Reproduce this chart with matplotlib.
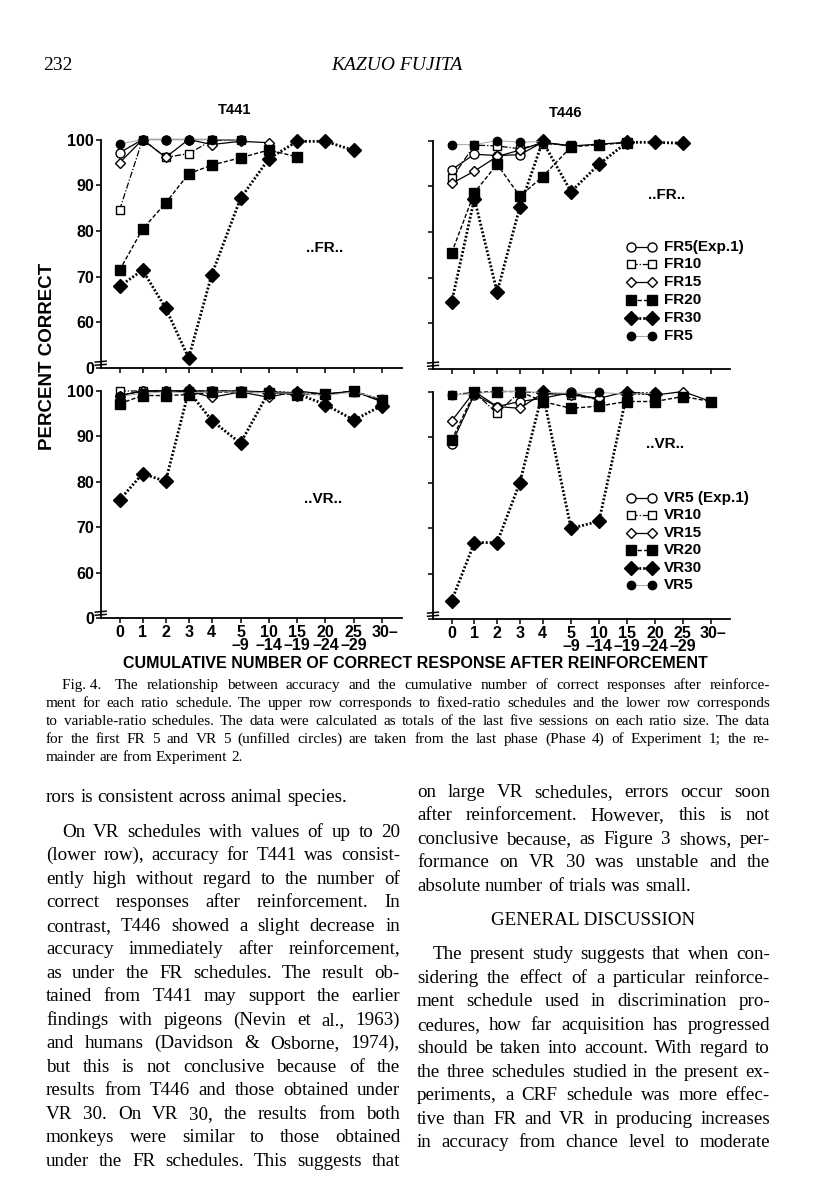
import numpy as np
import matplotlib
matplotlib.use("Agg")
import matplotlib.pyplot as plt
from matplotlib.lines import Line2D

nan = np.nan
W, H = 816, 1200

# categories on the x axis (cumulative correct responses after reinforcement)
categories = ["0", "1", "2", "3", "4", "5\n\u20139", "10\n\u201314", "15\n\u201319",
              "20\n\u201324", "25\n\u201329", "30\u2013"]

# T441, fixed ratio (upper left)
t441_fr5_exp1 = [97.1, 100, 100, 100, 100, 99.8, nan, nan, nan, nan, nan]
t441_fr10 = [84.6, 100, 96.1, 96.9, 99.8, 99.8, nan, nan, nan, nan, nan]
t441_fr15 = [94.9, 100, 96.1, 100, 98.9, 99.6, 99.3, nan, nan, nan, nan]
t441_fr20 = [71.4, 80.4, 86.1, 92.5, 94.4, 96.0, 97.7, 96.2, nan, nan, nan]
t441_fr30 = [67.9, 71.4, 63.1, 52.2, 70.4, 87.1, 95.8, 99.6, 99.6, 97.6, nan]
t441_fr5 = [99.0, 100, 100, 100, 100, 99.8, nan, nan, nan, nan, nan]

# T446, fixed ratio (upper right)
t446_fr5_exp1 = [93.6, 97.0, 96.7, 96.9, 99.6, 98.8, nan, nan, nan, nan, nan]
t446_fr10 = [91.7, 99.0, 98.8, 98.2, 99.3, 99.0, nan, nan, nan, nan, nan]
t446_fr15 = [90.6, 93.3, 96.5, 97.9, 99.6, 98.8, 99.2, 99.6, nan, nan, nan]
t446_fr20 = [75.4, 88.6, 94.8, 87.8, 92.1, 98.6, 99.1, 99.5, nan, nan, nan]
t446_fr30 = [64.6, 87.3, 66.8, 85.5, 99.8, 88.8, 94.8, 99.6, 99.6, 99.4, nan]
t446_fr5 = [99.1, 99.1, 100, 99.6, 99.8, nan, nan, nan, nan, nan, nan]

# T441, variable ratio (lower left)
t441_vr5_exp1 = [99.0, 100, 100, 100, 100, 100, 99.8, 99.6, nan, nan, nan]
t441_vr10 = [100, 100, 100, 100, 100, 100, 99.6, 99.6, 99.4, 99.8, 97.8]
t441_vr15 = [99.0, 100, 100, 100, 98.6, 99.8, 98.6, 100, 99.3, 100, 97.6]
t441_vr20 = [97.2, 99.0, 99.0, 99.2, 99.7, 99.8, 99.6, 99.2, 99.3, 100, 98.0]
t441_vr30 = [76.0, 81.8, 80.1, 100, 93.5, 88.5, 99.8, 99.4, 97.0, 93.6, 96.8]
t441_vr5 = [98.8, 99.5, 99.8, 99.6, 99.8, 99.8, 99.6, 99.5, 99.0, 99.8, 98.3]

# T446, variable ratio (lower right)
t446_vr5_exp1 = [88.5, 99.3, 96.7, 97.8, 98.5, 99.8, 98.2, nan, nan, nan, nan]
t446_vr10 = [99.3, 99.8, 95.2, 100, 99.6, 99.3, 98.2, nan, nan, nan, nan]
t446_vr15 = [93.5, 100, 96.7, 96.3, 99.6, 99.3, 98.5, 100, 99.2, 100, 97.8]
t446_vr20 = [89.3, 99.8, 100, 100, 97.8, 96.3, 96.8, 97.8, 97.8, 98.9, 97.8]
t446_vr30 = [54.0, 66.8, 66.8, 80.0, 99.8, 69.9, 71.5, 99.6, 99.5, nan, nan]
t446_vr5 = [99.3, 99.5, 100, 100, 99.8, 99.6, 99.8, 99.4, 99.6, nan, nan]

fr_labels = ["FR5(Exp.1)", "FR10", "FR15", "FR20", "FR30", "FR5"]
vr_labels = ["VR5 (Exp.1)", "VR10", "VR15", "VR20", "VR30", "VR5"]

# first five categories are single counts, the rest are bins drawn a bit wider apart
xpos = np.r_[np.arange(5), 5.25 + 1.23 * np.arange(6)]

styles = [
    dict(marker="o", mfc="white", ms=6.5, ls="-", lw=0.9, color="black"),
    dict(marker="s", mfc="white", ms=6, ls=(0, (5, 1.5, 1, 1.5)), lw=0.9, color="black"),
    dict(marker="D", mfc="white", ms=5.5, ls="-", lw=0.9, color="black"),
    dict(marker="s", mfc="black", ms=6.5, ls=(0, (3, 1.5)), lw=1.0, color="black"),
    dict(marker="D", mfc="black", ms=7, ls=(0, (0.7, 0.7)), lw=2.0, color="black"),
    dict(marker="o", mfc="black", ms=6, ls="-", lw=0.7, color="0.65"),
]

plt.rcParams["font.family"] = ["Liberation Sans", "DejaVu Sans"]
fig = plt.figure(figsize=(W / 100, H / 100), dpi=100)
fig.patch.set_facecolor("white")


def px(x, y):
    return x / W, 1 - y / H


def make_axes(x0, x1, ytop, ybot, show_ylabels, show_xlabels, series):
    ax = fig.add_axes([x0 / W, 1 - ybot / H, (x1 - x0) / W, (ybot - ytop) / H])
    for data, st in zip(series, styles):
        ax.plot(xpos, data, clip_on=False, mec="black", mew=1.0, **st)
    ax.set_xlim(-0.82, 12.24)
    ax.set_ylim(50, 100)
    for s in ["top", "right"]:
        ax.spines[s].set_visible(False)
    for s in ["left", "bottom"]:
        ax.spines[s].set_linewidth(1.3)
    ax.set_yticks([50, 60, 70, 80, 90, 100])
    ax.set_xticks(xpos)
    ax.tick_params(direction="out", length=3.5, width=1.1, pad=1.5)
    if show_ylabels:
        ax.set_yticklabels(["0", "60", "70", "80", "90", "100"],
                           fontsize=11.5, fontweight="bold")
    else:
        ax.set_yticklabels([])
    if show_xlabels:
        ax.set_xticklabels(categories[:-1] + [""], fontsize=11.5,
                           fontweight="bold", linespacing=0.8)
        ax.text(xpos[-1] + 0.1, -0.063, categories[-1], transform=ax.get_xaxis_transform(),
                ha="center", va="center", fontsize=11.5, fontweight="bold")
    else:
        ax.set_xticklabels([])
    # axis break mark near the bottom of the y axis
    for yb in (0.014, 0.028):
        ax.plot([-0.018, 0.018], [yb - 0.002, yb + 0.002], transform=ax.transAxes,
                color="black", lw=1.1, clip_on=False)
    return ax


ax1 = make_axes(100.7, 401.5, 139.5, 368, True, False,
                [t441_fr5_exp1, t441_fr10, t441_fr15, t441_fr20, t441_fr30, t441_fr5])
ax2 = make_axes(433, 730, 140.5, 369, False, False,
                [t446_fr5_exp1, t446_fr10, t446_fr15, t446_fr20, t446_fr30, t446_fr5])
ax3 = make_axes(100.7, 401.5, 391, 618, True, True,
                [t441_vr5_exp1, t441_vr10, t441_vr15, t441_vr20, t441_vr30, t441_vr5])
ax4 = make_axes(433, 730, 391.5, 619, False, True,
                [t446_vr5_exp1, t446_vr10, t446_vr15, t446_vr20, t446_vr30, t446_vr5])


# hand-placed legends inside the right panels
def legend(rows_y, labels):
    for yy, lab, st in zip(rows_y, labels, styles):
        x_a, y_a = px(631, yy)
        x_b, _ = px(652, yy)
        ln = Line2D([x_a, x_b], [y_a, y_a], transform=fig.transFigure, mec="black",
                    mew=1.0, **st)
        fig.add_artist(ln)
        fig.text(*px(664, yy), lab, fontsize=11, fontweight="bold", va="center", ha="left")


legend([246.7, 264, 282.3, 300, 317.7, 335.7], fr_labels)
legend([497.7, 515, 532.7, 550, 567.7, 585], vr_labels)

bold = dict(fontweight="bold", ha="center", va="center")
fig.text(*px(325, 248), "..FR..", fontsize=11, **bold)
fig.text(*px(667, 195), "..FR..", fontsize=11, **bold)
fig.text(*px(323, 499), "..VR..", fontsize=11, **bold)
fig.text(*px(665, 444), "..VR..", fontsize=11, **bold)
fig.text(*px(235, 110), "T441", fontsize=10.5, **bold)
fig.text(*px(566, 113), "T446", fontsize=10.5, **bold)
fig.text(*px(48, 356), "PERCENT CORRECT", fontsize=13.5, rotation=90, **bold)
fig.text(*px(415, 663), "CUMULATIVE NUMBER OF CORRECT RESPONSE AFTER REINFORCEMENT",
         fontsize=11.5, **bold)

serif = ["Liberation Serif", "DejaVu Serif"]
fig.text(*px(43, 66), "232", fontsize=14, family=serif, va="center")
fig.text(*px(397, 66), "KAZUO FUJITA", fontsize=14, family=serif, style="italic",
         ha="center", va="center")

renderer = fig.canvas.get_renderer()


def text_width(s, size):
    t = fig.text(0, 0, s, fontsize=size, family=serif)
    w = t.get_window_extent(renderer).width
    t.remove()
    return w


def line_of_words(text, x0, x1, y, size, justify=True):
    # y is the baseline in pixels; words are spread to fill x0..x1 like typeset text
    words = text.split(" ")
    arts = [fig.text(0, 0, w, fontsize=size, family=serif, va="baseline") for w in words]
    widths = [a.get_window_extent(renderer).width for a in arts]
    if justify and len(words) > 1:
        gap = (x1 - x0 - sum(widths)) / (len(words) - 1)
    else:
        gap = text_width("a a", size) - text_width("aa", size)
    x = x0
    for a, w in zip(arts, widths):
        a.set_position(px(x, y))
        x += w + gap


# figure caption
cap = 11
fig.text(*px(62, 689), "Fig. 4.", fontsize=cap, family=serif, va="baseline")
caption = [
    ("The relationship between accuracy and the cumulative number of correct responses after reinforce-", 115, 689, True),
    ("ment for each ratio schedule. The upper row corresponds to fixed-ratio schedules and the lower row corresponds", 46, 707, True),
    ("to variable-ratio schedules. The data were calculated as totals of the last five sessions on each ratio size. The data", 46, 725, True),
    ("for the first FR 5 and VR 5 (unfilled circles) are taken from the last phase (Phase 4) of Experiment 1; the re-", 46, 743, True),
    ("mainder are from Experiment 2.", 46, 761, False),
]
for txt, x0, y, j in caption:
    line_of_words(txt, x0, 770, y, cap, j)

body = 13.7
left_col = [
    ("rors is consistent across animal species.", 46, 802, False),
    ("On VR schedules with values of up to 20", 62, 837, True),
    ("(lower row), accuracy for T441 was consist-", 46, 860, True),
    ("ently high without regard to the number of", 46, 884, True),
    ("correct responses after reinforcement. In", 46, 907, True),
    ("contrast, T446 showed a slight decrease in", 46, 931, True),
    ("accuracy immediately after reinforcement,", 46, 954, True),
    ("as under the FR schedules. The result ob-", 46, 978, True),
    ("tained from T441 may support the earlier", 46, 1001, True),
    ("findings with pigeons (Nevin et al., 1963)", 46, 1025, True),
    ("and humans (Davidson & Osborne, 1974),", 46, 1048, True),
    ("but this is not conclusive because of the", 46, 1072, True),
    ("results from T446 and those obtained under", 46, 1095, True),
    ("VR 30. On VR 30, the results from both", 46, 1119, True),
    ("monkeys were similar to those obtained", 46, 1142, True),
    ("under the FR schedules. This suggests that", 46, 1166, True),
]
for txt, x0, y, j in left_col:
    line_of_words(txt, x0, 400, y, body, j)

right_col = [
    ("on large VR schedules, errors occur soon", 417, 797, True),
    ("after reinforcement. However, this is not", 417, 820, True),
    ("conclusive because, as Figure 3 shows, per-", 417, 844, True),
    ("formance on VR 30 was unstable and the", 417, 867, True),
    ("absolute number of trials was small.", 417, 891, False),
    ("The present study suggests that when con-", 433, 959, True),
    ("sidering the effect of a particular reinforce-", 417, 983, True),
    ("ment schedule used in discrimination pro-", 417, 1006, True),
    ("cedures, how far acquisition has progressed", 417, 1030, True),
    ("should be taken into account. With regard to", 417, 1053, True),
    ("the three schedules studied in the present ex-", 417, 1077, True),
    ("periments, a CRF schedule was more effec-", 417, 1100, True),
    ("tive than FR and VR in producing increases", 417, 1124, True),
    ("in accuracy from chance level to moderate", 417, 1147, True),
]
for txt, x0, y, j in right_col:
    line_of_words(txt, x0, 770, y, body, j)
fig.text(*px(593, 925), "GENERAL DISCUSSION", fontsize=body, family=serif,
         ha="center", va="baseline")

fig.savefig("out.png", dpi=100, facecolor="white")
